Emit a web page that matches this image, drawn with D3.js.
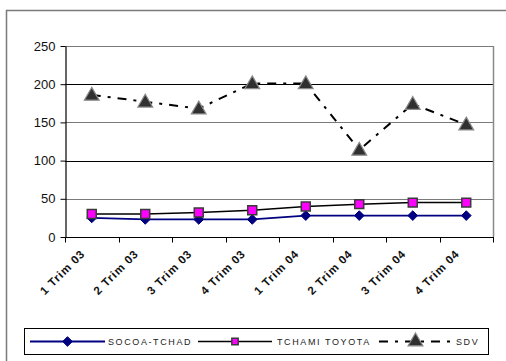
<!DOCTYPE html>
<html>
<head>
<meta charset="utf-8">
<script src="https://cdn.jsdelivr.net/npm/d3@7"></script>
<style>
  html, body { margin: 0; padding: 0; background: #fff; }
  svg { display: block; font-family: Arial, "Liberation Sans", sans-serif; }
</style>
</head>
<body>
<svg id="chart" width="506" height="361"></svg>
<script>
// Quarterly figures for three vendors
const quarters = ["1 Trim 03", "2 Trim 03", "3 Trim 03", "4 Trim 03",
                  "1 Trim 04", "2 Trim 04", "3 Trim 04", "4 Trim 04"];
const socoa = [25, 23, 23, 23, 28, 28, 28, 28];
const tchami = [30, 30, 32, 35, 40, 43, 45, 45];
const sdv = [186, 177, 168, 201, 201, 114, 174, 147];
const yTicks = [0, 50, 100, 150, 200, 250];
const seriesNames = ["SOCOA-TCHAD", "TCHAMI TOYOTA", "SDV"];

const svg = d3.select("#chart");
const W = 506, H = 361;
const plot = { left: 65, top: 46, right: 493, bottom: 237 };

// outer chart frame (extends beyond the visible window on right and bottom)
svg.append("path")
  .attr("d", `M6.5,${H + 5} V10.5 H${W + 5}`)
  .attr("fill", "none").attr("stroke", "#7a7a7a").attr("stroke-width", 1.5);

const x = d3.scaleBand().domain(quarters).range([plot.left, plot.right]).padding(0);
const y = d3.scaleLinear().domain([0, 250]).range([plot.bottom, plot.top]);
const cx = d => x(d) + x.bandwidth() / 2;

// horizontal gridlines
svg.append("g").selectAll("line")
  .data(yTicks.filter(v => v > 0))
  .join("line")
  .attr("x1", plot.left).attr("x2", plot.right)
  .attr("y1", d => Math.round(y(d)) + 0.5).attr("y2", d => Math.round(y(d)) + 0.5)
  .attr("stroke", d => (d === 200 || d === 100) ? "#000" : "#7a7a7a")
  .attr("stroke-width", 1);

// right border of plot area
svg.append("line")
  .attr("x1", plot.right + 0.5).attr("x2", plot.right + 0.5)
  .attr("y1", y(250)).attr("y2", plot.bottom)
  .attr("stroke", "#8a8a8a").attr("stroke-width", 1.5);

// y axis
const yAxis = svg.append("g")
  .attr("transform", `translate(${plot.left + 0.5},0)`)
  .call(d3.axisLeft(y).tickValues(yTicks).tickSize(5).tickPadding(5).tickSizeOuter(0));
yAxis.select(".domain").attr("stroke", "#000").attr("stroke-width", 1.2);
yAxis.selectAll(".tick line").attr("stroke", "#000");
yAxis.selectAll("text").attr("font-size", 13).attr("fill", "#111")
  .attr("font-family", "Arial, 'Liberation Sans', sans-serif");

// x axis with tick marks on band boundaries
const xAxis = svg.append("g")
  .attr("transform", `translate(0,${plot.bottom + 0.5})`);
xAxis.append("line")
  .attr("x1", plot.left).attr("x2", plot.right + 1)
  .attr("stroke", "#000").attr("stroke-width", 1.2);
const bounds = quarters.map(q => x(q)).concat([plot.right]);
xAxis.selectAll("line.tk").data(bounds).join("line")
  .attr("class", "tk")
  .attr("x1", d => Math.round(d) + 0.5).attr("x2", d => Math.round(d) + 0.5)
  .attr("y1", 0).attr("y2", 5)
  .attr("stroke", "#000");
xAxis.selectAll("text").data(quarters).join("text")
  .attr("transform", d => `translate(${cx(d) - 6},17) rotate(-45)`)
  .attr("text-anchor", "end")
  .attr("font-size", 11.5)
  .attr("font-weight", "bold")
  .attr("letter-spacing", 0.9)
  .attr("fill", "#111")
  .text(d => d);

const line = d3.line().x((d, i) => cx(quarters[i])).y(d => y(d));

// series lines
svg.append("path").datum(socoa).attr("d", line)
  .attr("fill", "none").attr("stroke", "#000080").attr("stroke-width", 1.8);
svg.append("path").datum(tchami).attr("d", line)
  .attr("fill", "none").attr("stroke", "#000").attr("stroke-width", 1.5);
svg.append("path").datum(sdv).attr("d", line)
  .attr("fill", "none").attr("stroke", "#000").attr("stroke-width", 2)
  .attr("stroke-dasharray", "9,7,3,7");

// markers
const diamond = d3.symbol().type(d3.symbolDiamond2).size(60);
const square = d3.symbol().type(d3.symbolSquare).size(80);
const tri = d3.symbol().type(d3.symbolTriangle).size(95);

function drawMarkers(values, sym, fill, stroke, sw, dy) {
  svg.append("g").selectAll("path").data(values).join("path")
    .attr("d", sym)
    .attr("transform", (d, i) => `translate(${cx(quarters[i])},${y(d) + (dy || 0)})`)
    .attr("fill", fill).attr("stroke", stroke).attr("stroke-width", sw);
}
drawMarkers(socoa, diamond, "#000080", "#000080", 1);
drawMarkers(tchami, square, "#ff00ff", "#3a3a3a", 1.5);
drawMarkers(sdv, tri, "#303030", "#8a8a8a", 1.2, 1);

// legend
const lg = svg.append("g");
lg.append("rect")
  .attr("x", 24.5).attr("y", 328.5).attr("width", 464).attr("height", 26)
  .attr("fill", "#fff").attr("stroke", "#000").attr("stroke-width", 1);

const ly = 341.5;
const legendItems = [
  { name: seriesNames[0], x0: 30, x1: 105, tx: 108, color: "#000080", sw: 1.8, dash: null, sym: diamond, fill: "#000080", stroke: "#000080", msw: 1 },
  { name: seriesNames[1], x0: 198, x1: 272, tx: 277, color: "#000", sw: 1.5, dash: null, sym: d3.symbol().type(d3.symbolSquare).size(40), fill: "#ff00ff", stroke: "#3a3a3a", msw: 1.5 },
  { name: seriesNames[2], x0: 379, x1: 452, tx: 456, color: "#000", sw: 2, dash: "9,7,3,7", sym: tri, fill: "#303030", stroke: "#8a8a8a", msw: 1.2 }
];
legendItems.forEach(it => {
  lg.append("line")
    .attr("x1", it.x0).attr("x2", it.x1).attr("y1", ly).attr("y2", ly)
    .attr("stroke", it.color).attr("stroke-width", it.sw)
    .attr("stroke-dasharray", it.dash);
  lg.append("path").attr("d", it.sym)
    .attr("transform", `translate(${(it.x0 + it.x1) / 2},${ly})`)
    .attr("fill", it.fill).attr("stroke", it.stroke).attr("stroke-width", it.msw);
  lg.append("text")
    .attr("x", it.tx).attr("y", ly + 3.5)
    .attr("font-size", 9).attr("letter-spacing", 1.6)
    .attr("fill", "#222")
    .text(it.name);
});
</script>
</body>
</html>
